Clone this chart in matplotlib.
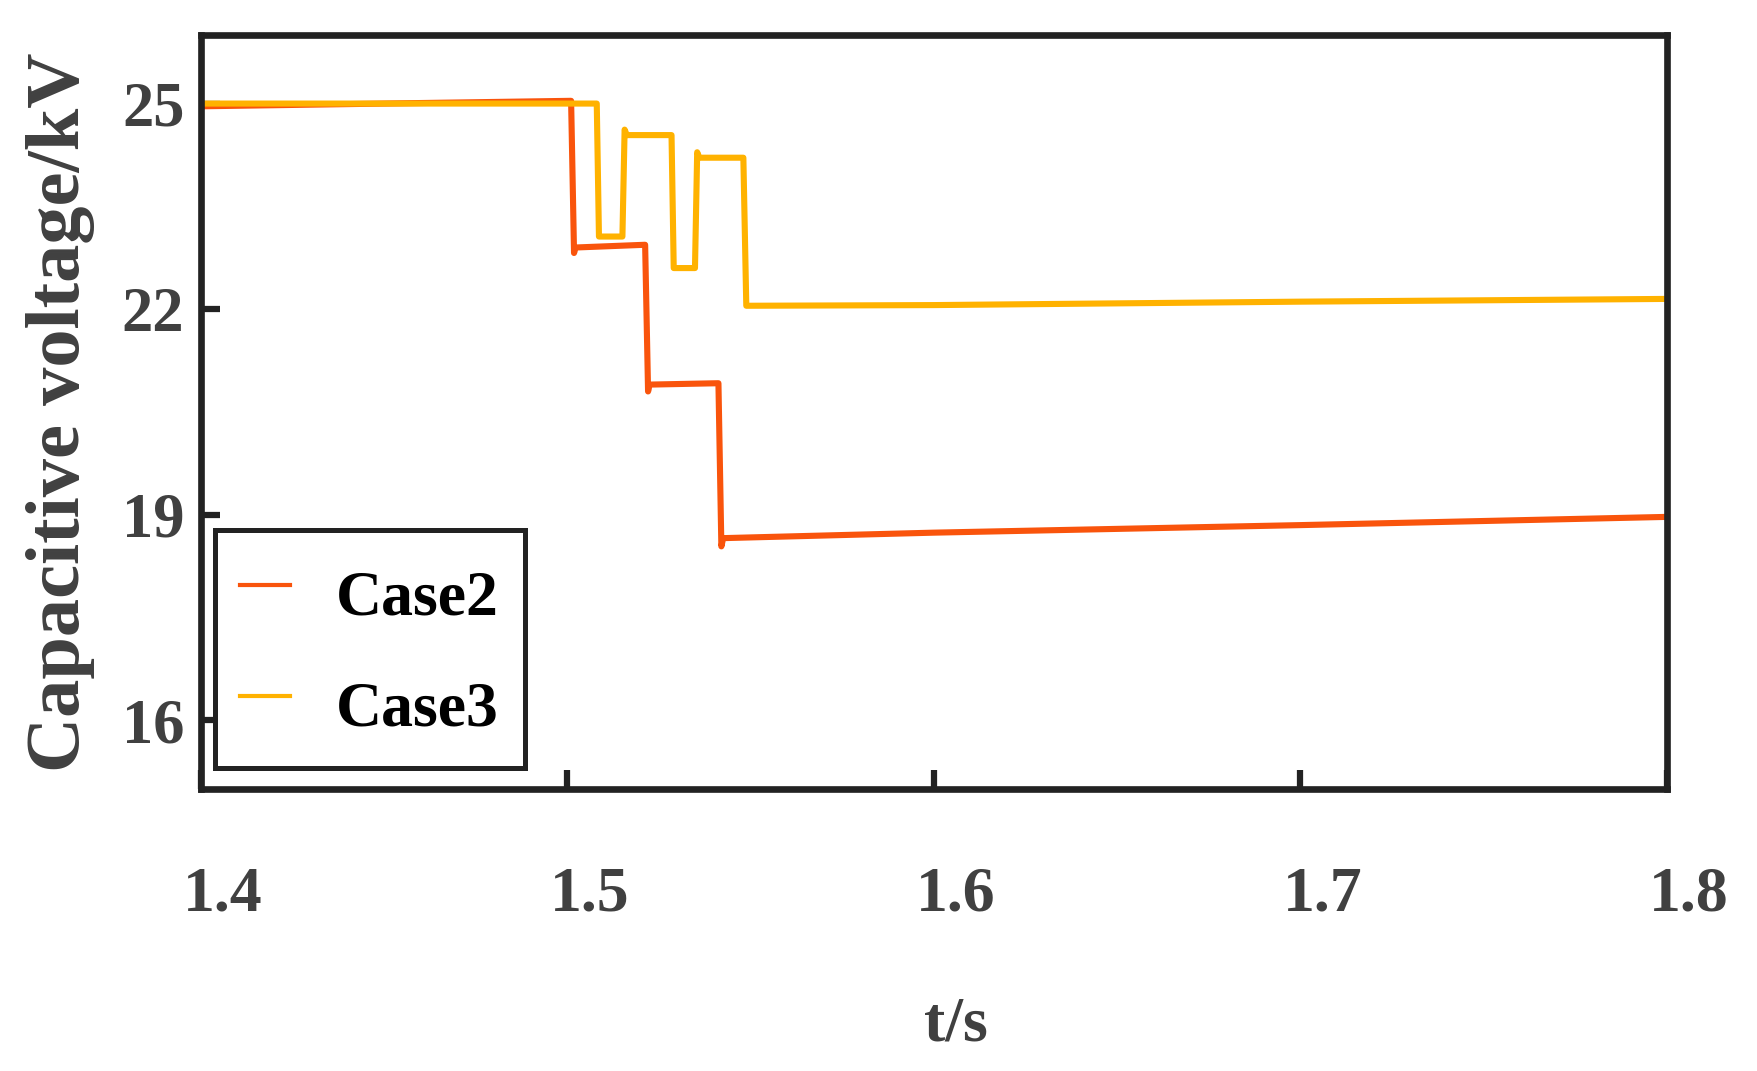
import matplotlib
matplotlib.use("Agg")
import matplotlib.pyplot as plt
import matplotlib.transforms as mtransforms

# data
case2_t = [1.400, 1.450, 1.5010, 1.5018, 1.5022, 1.5212, 1.5220, 1.5224,
           1.5412, 1.5420, 1.5425, 1.600, 1.700, 1.800]
case2_v = [24.96, 25.00, 25.04, 22.82, 22.90, 22.94, 20.80, 20.90,
           20.92, 18.54, 18.66, 18.74, 18.85, 18.97]

case3_t = [1.400, 1.450, 1.5080, 1.5086, 1.5150, 1.5156, 1.5162, 1.5284,
           1.5290, 1.5348, 1.5354, 1.5360, 1.5480, 1.5488, 1.600, 1.700, 1.800]
case3_v = [25.00, 25.00, 25.00, 23.06, 23.06, 24.62, 24.54, 24.54,
           22.60, 22.60, 24.29, 24.21, 24.21, 22.05, 22.06, 22.11, 22.15]

x_ticks = [1.4, 1.5, 1.6, 1.7, 1.8]
y_ticks = [16, 19, 22, 25]

plt.rcParams["font.family"] = ["Liberation Serif", "DejaVu Serif"]
plt.rcParams["font.weight"] = "bold"

fig = plt.figure(figsize=(17.58, 10.71), dpi=100)
ax = fig.add_axes([0.1143, 0.2633, 0.8339, 0.704])

ax.plot(case2_t, case2_v, color="#F9540C", lw=4.4, label="Case2")
ax.plot(case3_t, case3_v, color="#FFB200", lw=4.4, label="Case3")

ax.set_xlim(1.4, 1.8)
ax.set_ylim(15, 26)
ax.set_xticks(x_ticks)
ax.set_xticklabels([str(x) for x in x_ticks])
ax.set_yticks(y_ticks)

for s in ax.spines.values():
    s.set_linewidth(4.8)
    s.set_color("#222222")

ax.tick_params(axis="both", direction="in", length=14, width=4.5,
               color="#222222", labelcolor="#404040")
ax.tick_params(axis="x", pad=56, labelsize=46)
ax.tick_params(axis="y", pad=12, labelsize=45)

# x tick labels sit a bit right of their ticks in the original
shift = mtransforms.ScaledTranslation(0.22, 0, fig.dpi_scale_trans)
for lab in ax.get_xticklabels():
    lab.set_transform(lab.get_transform() + shift)

ax.set_xlabel("t/s", fontsize=46, fontweight="bold", color="#404040")
ax.set_ylabel("Capacitive voltage/kV", fontsize=55, fontweight="bold", color="#404040")
ax.xaxis.set_label_coords(0.515, -0.275)
ax.yaxis.set_label_coords(-0.072, 0.5)

leg = ax.legend(loc="lower left", bbox_to_anchor=(0.0095, 0.028), borderaxespad=0,
                prop={"size": 46, "weight": "bold"}, handlelength=0.78,
                handletextpad=0.72, borderpad=0.4, labelspacing=0.55,
                handleheight=1.45, fancybox=False, framealpha=1)
leg.get_frame().set_edgecolor("#222222")
leg.get_frame().set_linewidth(3.6)
for line in leg.get_lines():
    line.set_linewidth(3)

fig.savefig("out.png", dpi=100)
